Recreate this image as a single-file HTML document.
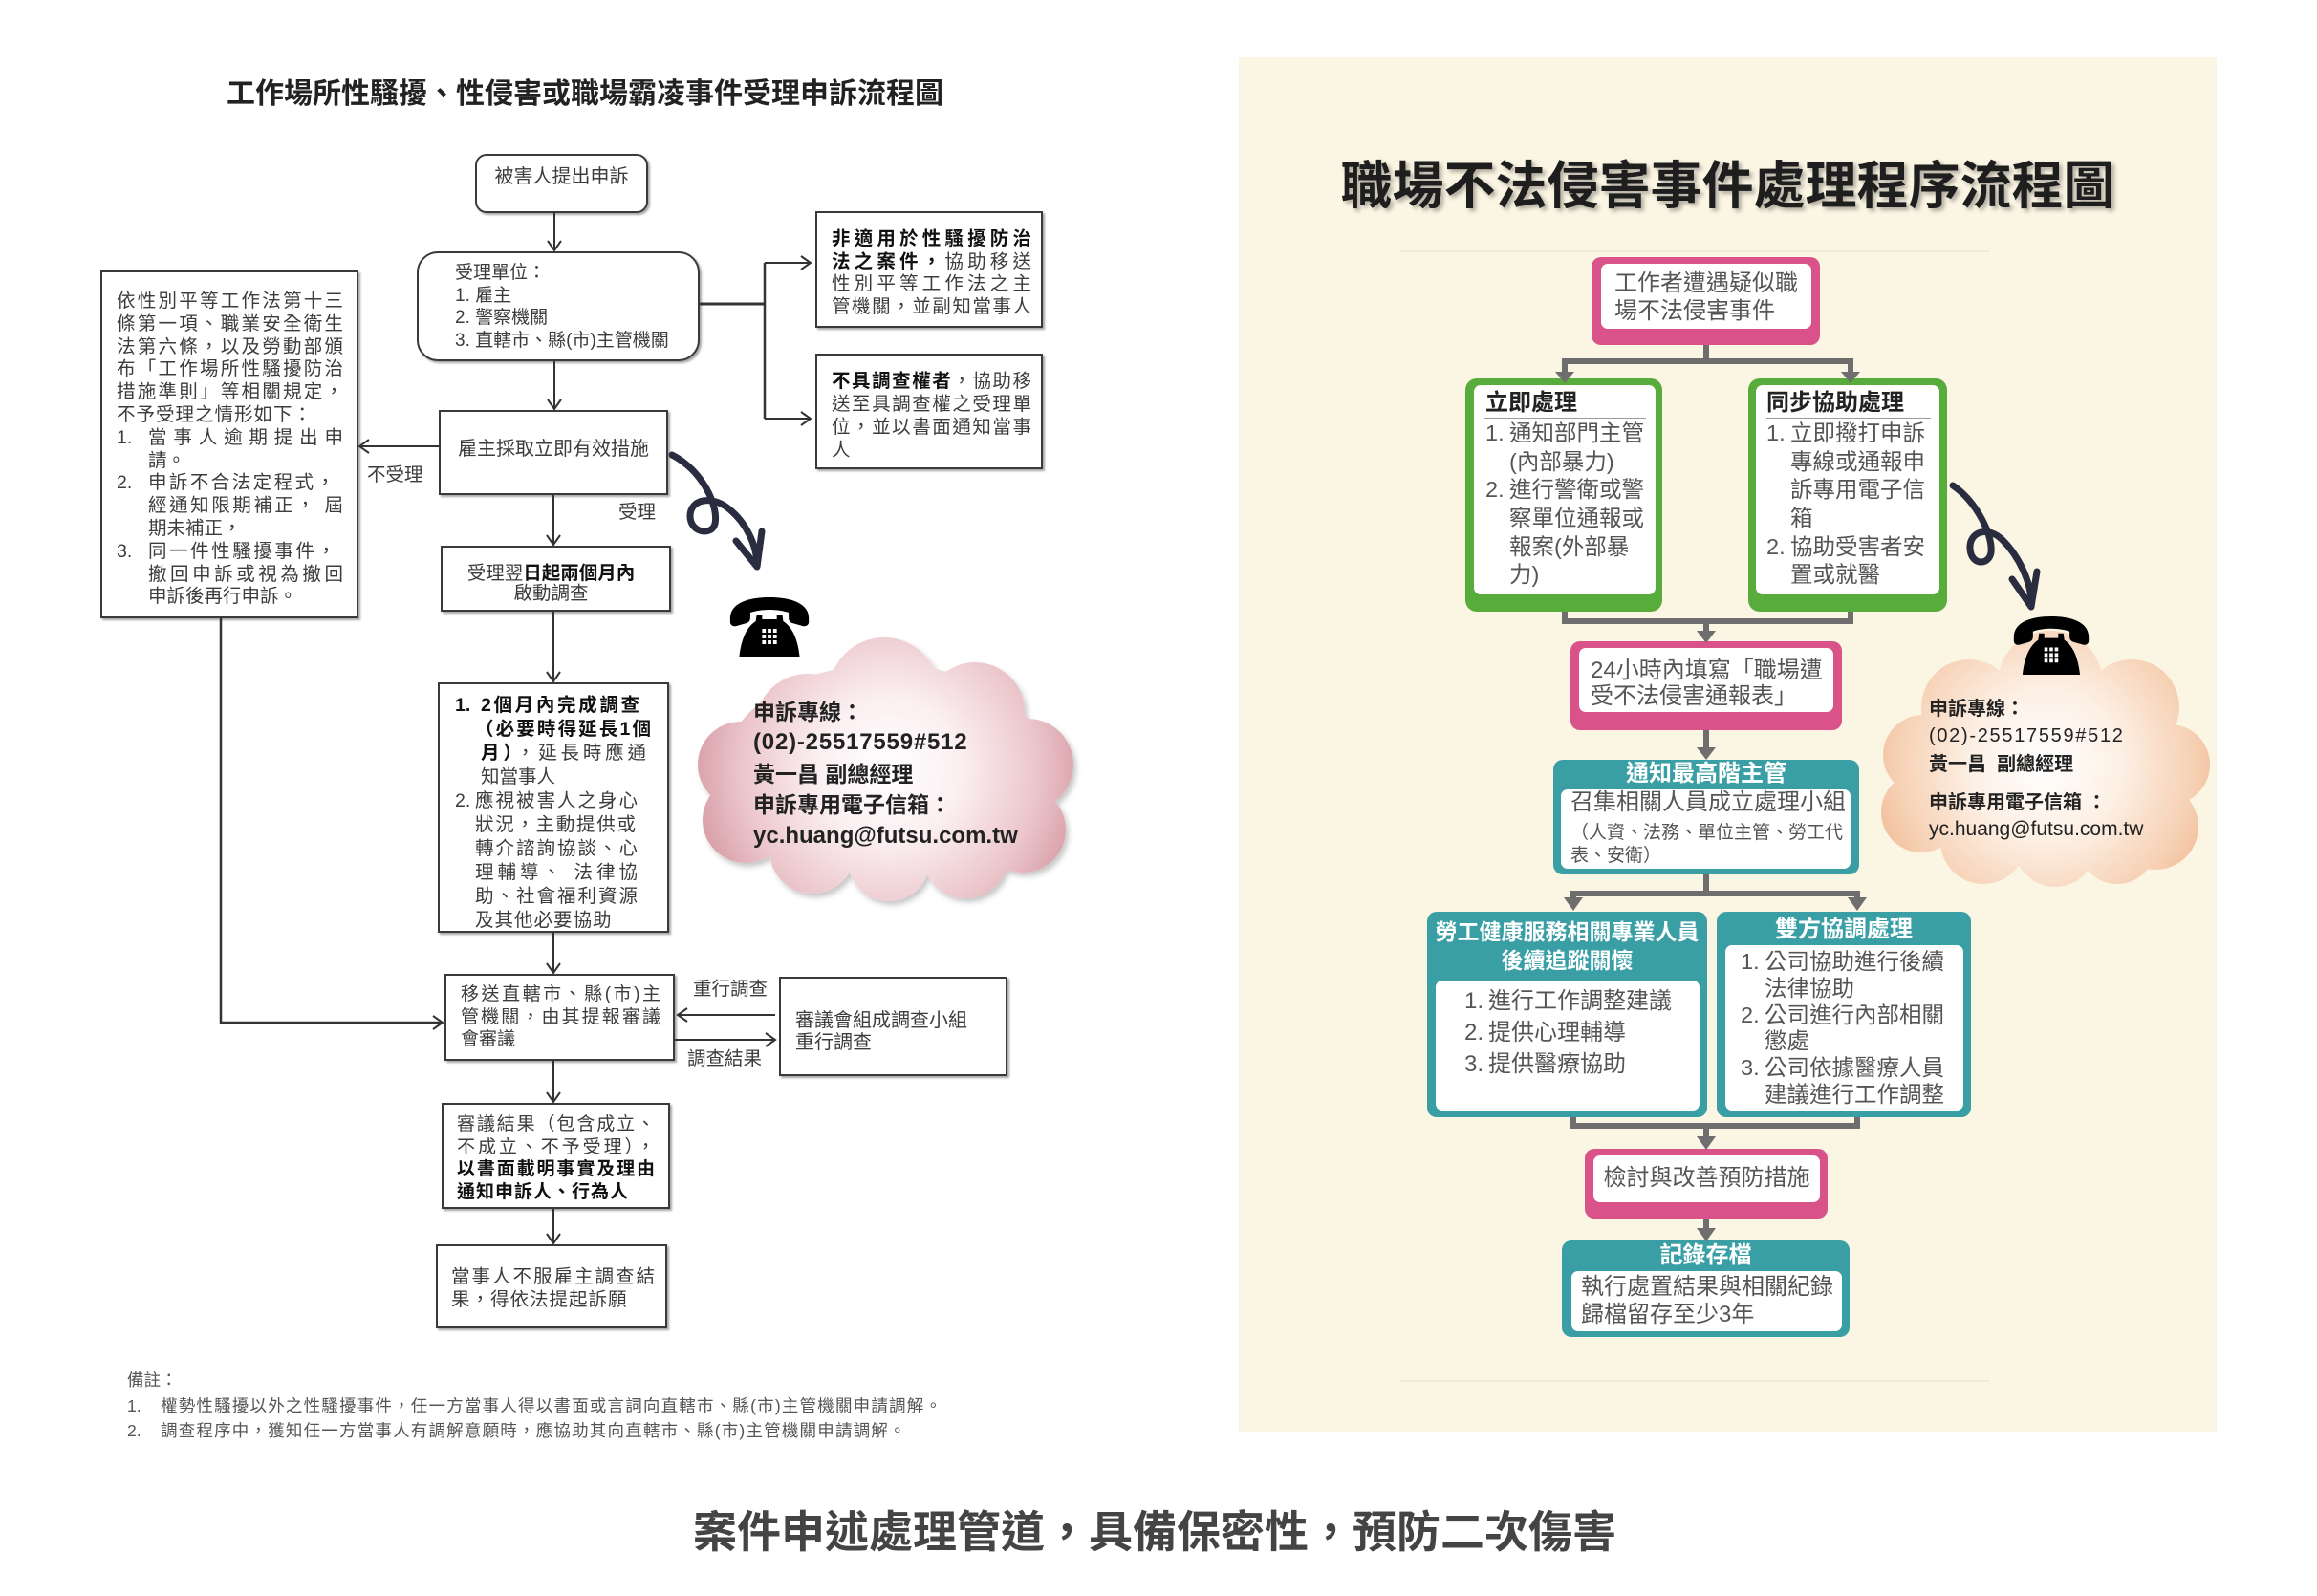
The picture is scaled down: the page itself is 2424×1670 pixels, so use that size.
<!DOCTYPE html>
<html><head><meta charset="utf-8">
<style>
*{margin:0;padding:0;box-sizing:border-box}
html,body{width:2424px;height:1670px;background:#fff;overflow:hidden}
body{position:relative;font-family:"Liberation Sans","Noto Sans CJK TC",sans-serif;color:#3c3c3c}
.a{position:absolute}
.L{position:absolute;white-space:nowrap}
.J{position:absolute;text-align:justify;text-align-last:justify;overflow:visible}
.bx{position:absolute;border:2px solid #3a3a3a;background:#fff;box-shadow:2px 2px 2px rgba(0,0,0,.35)}
.k{font-size:19.5px;line-height:24px;color:#3c3c3c}
b,.bd{font-weight:bold;color:#111}
.rb{position:absolute;border-radius:10px}
.rw{position:absolute;border-radius:7px;background:#fff}
.pk{background:#d9538a}
.gr{background:#57ac3c}
.tl{background:#3a9fa5}
.rt{position:absolute;white-space:nowrap;color:#555;font-size:24px}
.wh{color:#fff;font-weight:bold;text-align:center;white-space:nowrap;position:absolute}
.n{display:inline-block;width:25px}
</style></head><body>

<!-- right panel background -->
<div class="a" style="left:1296px;top:60px;width:1023px;height:1438px;background:#fbf5e3"></div>
<div class="a" style="left:1464px;top:262px;width:618px;height:2px;background:#f2ebd6"></div>
<div class="a" style="left:1464px;top:1444px;width:618px;height:2px;background:#f2ebd6"></div>

<!-- LEFT TITLE -->
<div class="L" style="left:0;top:81px;width:1224px;text-align:center;font-size:30px;line-height:36px;font-weight:bold;color:#222">工作場所性騷擾、性侵害或職場霸凌事件受理申訴流程圖</div>

<!-- LEFT BOXES -->
<div class="bx" style="left:497px;top:161px;width:181px;height:62px;border-radius:12px"></div>
<div class="bx" style="left:436px;top:263px;width:296px;height:115px;border-radius:22px"></div>
<div class="bx" style="left:853px;top:221px;width:238px;height:122px"></div>
<div class="bx" style="left:853px;top:370px;width:238px;height:121px"></div>
<div class="bx" style="left:459px;top:429px;width:240px;height:89px"></div>
<div class="bx" style="left:105px;top:283px;width:270px;height:364px"></div>
<div class="bx" style="left:461px;top:571px;width:241px;height:69px"></div>
<div class="bx" style="left:458px;top:714px;width:242px;height:262px"></div>
<div class="bx" style="left:465px;top:1019px;width:241px;height:91px"></div>
<div class="bx" style="left:815px;top:1022px;width:239px;height:104px"></div>
<div class="bx" style="left:462px;top:1154px;width:239px;height:111px"></div>
<div class="bx" style="left:456px;top:1302px;width:242px;height:88px"></div>

<!-- RIGHT BOXES -->
<div class="rb pk" style="left:1665px;top:269px;width:239px;height:92px"></div>
<div class="rw" style="left:1675px;top:276px;width:220px;height:68px"></div>
<div class="rb gr" style="left:1533px;top:396px;width:206px;height:244px;border-radius:12px"></div>
<div class="rw" style="left:1542px;top:403px;width:190px;height:219px"></div>
<div class="rb gr" style="left:1829px;top:396px;width:208px;height:244px;border-radius:12px"></div>
<div class="rw" style="left:1837px;top:403px;width:192px;height:219px"></div>
<div class="rb pk" style="left:1643px;top:671px;width:284px;height:93px"></div>
<div class="rw" style="left:1652px;top:678px;width:266px;height:67px"></div>
<div class="rb tl" style="left:1625px;top:795px;width:320px;height:120px"></div>
<div class="rw" style="left:1633px;top:826px;width:303px;height:83px"></div>
<div class="rb tl" style="left:1493px;top:954px;width:293px;height:215px"></div>
<div class="rw" style="left:1502px;top:1026px;width:276px;height:136px"></div>
<div class="rb tl" style="left:1796px;top:954px;width:266px;height:215px"></div>
<div class="rw" style="left:1805px;top:989px;width:249px;height:173px"></div>
<div class="rb pk" style="left:1658px;top:1202px;width:254px;height:73px"></div>
<div class="rw" style="left:1667px;top:1209px;width:237px;height:49px"></div>
<div class="rb tl" style="left:1634px;top:1298px;width:301px;height:101px"></div>
<div class="rw" style="left:1644px;top:1330px;width:283px;height:63px"></div>

<svg class="a" style="left:0;top:0" width="2424" height="1670" viewBox="0 0 2424 1670">
<defs>
<radialGradient id="gl" gradientUnits="userSpaceOnUse" cx="930" cy="805" r="215">
<stop offset="0" stop-color="#ffffff"/><stop offset="0.35" stop-color="#fbeff1"/><stop offset="0.72" stop-color="#ebc6cb"/><stop offset="1" stop-color="#d597a1"/>
</radialGradient>
<radialGradient id="gr" gradientUnits="userSpaceOnUse" cx="2140" cy="800" r="195">
<stop offset="0" stop-color="#ffffff"/><stop offset="0.4" stop-color="#fdf0e5"/><stop offset="0.8" stop-color="#f6d0b3"/><stop offset="1" stop-color="#efba94"/>
</radialGradient>
<filter id="sh" x="-10%" y="-10%" width="130%" height="130%"><feDropShadow dx="3" dy="4" stdDeviation="3" flood-color="#000" flood-opacity="0.22"/></filter>
</defs>

<!-- left cloud -->
<g fill="url(#gl)" filter="url(#sh)">
<ellipse cx="927" cy="805" rx="170" ry="110"/>
<circle cx="925" cy="725" r="58"/>
<circle cx="845" cy="760" r="55"/>
<circle cx="1020" cy="745" r="52"/>
<circle cx="1075" cy="800" r="48"/>
<circle cx="1070" cy="868" r="45"/>
<circle cx="1010" cy="895" r="45"/>
<circle cx="930" cy="900" r="43"/>
<circle cx="850" cy="890" r="45"/>
<circle cx="780" cy="858" r="45"/>
<circle cx="775" cy="800" r="45"/>
</g>
<!-- right cloud -->
<g fill="url(#gr)">
<ellipse cx="2140" cy="800" rx="150" ry="100"/>
<circle cx="2145" cy="715" r="55"/>
<circle cx="2060" cy="740" r="50"/>
<circle cx="2230" cy="740" r="50"/>
<circle cx="2270" cy="800" r="42"/>
<circle cx="2255" cy="865" r="45"/>
<circle cx="2150" cy="885" r="43"/>
<circle cx="2215" cy="885" r="40"/>
<circle cx="2075" cy="880" r="45"/>
<circle cx="2010" cy="850" r="42"/>
<circle cx="2012" cy="790" r="42"/>
</g>

<!-- phones -->
<g transform="translate(762,623) scale(0.956,1)">
<path fill="#000" d="M2,24 C2,8 22,2 45,2 C68,2 88,8 88,24 L88,28 C88,31 85,33 81,32 L70,29 C67,28 66,26 66,23 L66,18 C60,16 52,15 45,15 C38,15 30,16 24,18 L24,23 C24,26 23,28 20,29 L9,32 C5,33 2,31 2,28 Z"/>
<path fill="#000" d="M31,20 L37,20 L37,25 L53,25 L53,20 L59,20 L60,27 C70,33 76,46 78,64 L12,64 C14,46 20,33 30,27 Z"/>
<g fill="#fff"><rect x="37" y="35" width="4" height="4"/><rect x="43" y="35" width="4" height="4"/><rect x="49" y="35" width="4" height="4"/><rect x="37" y="41" width="4" height="4"/><rect x="43" y="41" width="4" height="4"/><rect x="49" y="41" width="4" height="4"/><rect x="37" y="47" width="4" height="4"/><rect x="43" y="47" width="4" height="4"/><rect x="49" y="47" width="4" height="4"/></g>
</g>
<g transform="translate(2105,643) scale(0.911,0.985)">
<path fill="#000" d="M2,24 C2,8 22,2 45,2 C68,2 88,8 88,24 L88,28 C88,31 85,33 81,32 L70,29 C67,28 66,26 66,23 L66,18 C60,16 52,15 45,15 C38,15 30,16 24,18 L24,23 C24,26 23,28 20,29 L9,32 C5,33 2,31 2,28 Z"/>
<path fill="#000" d="M31,20 L37,20 L37,25 L53,25 L53,20 L59,20 L60,27 C70,33 76,46 78,64 L12,64 C14,46 20,33 30,27 Z"/>
<g fill="#fff"><rect x="37" y="35" width="4" height="4"/><rect x="43" y="35" width="4" height="4"/><rect x="49" y="35" width="4" height="4"/><rect x="37" y="41" width="4" height="4"/><rect x="43" y="41" width="4" height="4"/><rect x="49" y="41" width="4" height="4"/><rect x="37" y="47" width="4" height="4"/><rect x="43" y="47" width="4" height="4"/><rect x="49" y="47" width="4" height="4"/></g>
</g>

<!-- curly arrows -->
<g fill="none" stroke="#2a2d3f" stroke-width="7" stroke-linecap="round" stroke-linejoin="round">
<path d="M703,476 C735,492 752,530 748,548 C745,561 722,558 722,540 C722,522 745,518 762,532 C780,546 792,570 792,592"/>
<path d="M770,566 L792,593 L797,556"/>
<path d="M2043,508 C2068,525 2085,560 2083,578 C2081,592 2062,592 2061,574 C2060,556 2080,550 2095,565 C2112,582 2126,610 2125,634"/>
<path d="M2105,606 L2125,635 L2131,598"/>
</g>

<!-- left connectors -->
<g fill="none" stroke="#333" stroke-width="2">
<path d="M580,223 V262"/><path d="M573,252 L580,262 L587,252"/>
<path d="M580,378 V428"/><path d="M573,418 L580,428 L587,418"/>
<path d="M732,318 H800" stroke-width="3"/>
<path d="M800,275 V438" stroke-width="2.5"/>
<path d="M800,275 H848"/><path d="M838,268 L848,275 L838,282"/>
<path d="M800,438 H848"/><path d="M838,431 L848,438 L838,445"/>
<path d="M459,467 H376"/><path d="M386,460 L376,467 L386,474"/>
<path d="M579,518 V570"/><path d="M572,560 L579,570 L586,560"/>
<path d="M579,640 V713"/><path d="M572,703 L579,713 L586,703"/>
<path d="M231,647 V1070 H463" stroke-width="2.5"/><path d="M453,1063 L463,1070 L453,1077"/>
<path d="M579,976 V1018"/><path d="M572,1008 L579,1018 L586,1008"/>
<path d="M811,1062 H709"/><path d="M719,1055 L709,1062 L719,1069"/>
<path d="M706,1088 H811"/><path d="M801,1081 L811,1088 L801,1095"/>
<path d="M579,1110 V1153"/><path d="M572,1143 L579,1153 L586,1143"/>
<path d="M579,1265 V1301"/><path d="M572,1291 L579,1301 L586,1291"/>
</g>

<!-- right connectors -->
<g fill="#6e6e6e">
<rect x="1782" y="361" width="6" height="20"/>
<rect x="1634" y="375" width="305" height="6"/>
<rect x="1634" y="375" width="6" height="16"/><rect x="1933" y="375" width="6" height="16"/>
<path d="M1627,389 L1647,389 L1637,401 Z"/><path d="M1926,389 L1946,389 L1936,401 Z"/>
<rect x="1634" y="640" width="6" height="13"/><rect x="1933" y="640" width="6" height="13"/>
<rect x="1634" y="647" width="305" height="6"/>
<rect x="1782" y="647" width="6" height="15"/>
<path d="M1775,660 L1795,660 L1785,673 Z"/>
<rect x="1782" y="764" width="6" height="20"/>
<path d="M1775,782 L1795,782 L1785,795 Z"/>
<rect x="1782" y="915" width="6" height="20"/>
<rect x="1643" y="932" width="303" height="6"/>
<rect x="1643" y="932" width="6" height="9"/><rect x="1940" y="932" width="6" height="9"/>
<path d="M1636,939 L1656,939 L1646,953 Z"/><path d="M1933,939 L1953,939 L1943,953 Z"/>
<rect x="1643" y="1169" width="6" height="12"/><rect x="1940" y="1169" width="6" height="12"/>
<rect x="1643" y="1175" width="303" height="6"/>
<rect x="1782" y="1175" width="6" height="16"/>
<path d="M1775,1189 L1795,1189 L1785,1203 Z"/>
<rect x="1782" y="1275" width="6" height="12"/>
<path d="M1775,1285 L1795,1285 L1785,1299 Z"/>
</g>
</svg>

<!-- LEFT TEXTS -->
<div class="L k" style="left:497px;top:173px;width:181px;text-align:center;font-size:20px">被害人提出申訴</div>

<div class="L" style="left:476px;top:274px;font-size:19px;line-height:23.7px;color:#3c3c3c">受理單位：<br>1. 雇主<br>2. 警察機關<br>3. 直轄市、縣(市)主管機關</div>

<div class="J k bd" style="left:870px;top:238px;width:209px">非適用於性騷擾防治</div>
<div class="J k" style="left:870px;top:261.5px;width:209px"><b>法之案件，</b>協助移送</div>
<div class="J k" style="left:870px;top:285px;width:209px">性別平等工作法之主</div>
<div class="J k" style="left:870px;top:308.5px;width:209px">管機關，並副知當事人</div>

<div class="J k" style="left:870px;top:387px;width:209px"><b>不具調查權者</b>，協助移</div>
<div class="J k" style="left:870px;top:411px;width:209px">送至具調查權之受理單</div>
<div class="J k" style="left:870px;top:435px;width:209px">位，並以書面通知當事</div>
<div class="L k" style="left:870px;top:459px">人</div>

<div class="L k" style="left:459px;top:458px;width:240px;text-align:center;font-size:20px">雇主採取立即有效措施</div>
<div class="L k" style="left:384px;top:485px">不受理</div>
<div class="L k" style="left:647px;top:524px">受理</div>
<div class="L" style="left:456px;top:590px;width:241px;text-align:center;font-size:19.5px;line-height:21px;color:#3c3c3c">受理翌<b>日起兩個月內</b><br>啟動調查</div>

<!-- left big box -->
<div class="J k" style="left:122px;top:303px;width:237px">依性別平等工作法第十三</div>
<div class="J k" style="left:122px;top:326.8px;width:237px">條第一項、職業安全衛生</div>
<div class="J k" style="left:122px;top:350.6px;width:237px">法第六條，以及勞動部頒</div>
<div class="J k" style="left:122px;top:374.4px;width:237px">布「工作場所性騷擾防治</div>
<div class="J k" style="left:122px;top:398.2px;width:237px">措施準則」等相關規定，</div>
<div class="L k" style="left:122px;top:422px;letter-spacing:1px">不予受理之情形如下：</div>
<div class="L k" style="left:122px;top:445.8px">1.</div>
<div class="J k" style="left:155px;top:445.8px;width:204px">當事人逾期提出申</div>
<div class="L k" style="left:155px;top:469.6px">請。</div>
<div class="L k" style="left:122px;top:493.4px">2.</div>
<div class="J k" style="left:155px;top:493.4px;width:195px">申訴不合法定程式，</div>
<div class="J k" style="left:155px;top:517.2px;width:204px">經通知限期補正， 屆</div>
<div class="L k" style="left:155px;top:541px">期未補正，</div>
<div class="L k" style="left:122px;top:564.8px">3.</div>
<div class="J k" style="left:155px;top:564.8px;width:196px">同一件性騷擾事件，</div>
<div class="J k" style="left:155px;top:588.6px;width:204px">撤回申訴或視為撤回</div>
<div class="L k" style="left:155px;top:612.4px">申訴後再行申訴。</div>

<!-- 2 months box -->
<div class="L k bd" style="left:476px;top:725.5px;line-height:25px">1.</div>
<div class="J k bd" style="left:503px;top:725.5px;width:166px;line-height:25px">2個月內完成調查</div>
<div class="J k bd" style="left:497px;top:750.5px;width:184px;line-height:25px">（必要時得延長1個</div>
<div class="J k" style="left:503px;top:775.5px;width:173px;line-height:25px"><b>月）</b>，延長時應通</div>
<div class="L k" style="left:503px;top:800.5px;line-height:25px">知當事人</div>
<div class="L k" style="left:476px;top:825.5px;line-height:25px">2.</div>
<div class="J k" style="left:497px;top:825.5px;width:170px;line-height:25px">應視被害人之身心</div>
<div class="J k" style="left:497px;top:850.5px;width:168px;line-height:25px">狀況，主動提供或</div>
<div class="J k" style="left:497px;top:875.5px;width:170px;line-height:25px">轉介諮詢協談、心</div>
<div class="J k" style="left:497px;top:900.5px;width:170px;line-height:25px">理輔導、 法律協</div>
<div class="J k" style="left:497px;top:925.5px;width:170px;line-height:25px">助、社會福利資源</div>
<div class="L k" style="left:497px;top:950.5px;line-height:25px;letter-spacing:1px">及其他必要協助</div>

<!-- transfer box -->
<div class="J k" style="left:482px;top:1029px;width:209px;font-size:19px;line-height:23.5px">移送直轄市、縣(市)主</div>
<div class="J k" style="left:482px;top:1052.5px;width:209px;font-size:19px;line-height:23.5px">管機關，由其提報審議</div>
<div class="L k" style="left:482px;top:1076px;font-size:19px;line-height:23.5px">會審議</div>

<div class="L" style="left:832px;top:1056.5px;font-size:20px;line-height:23px;color:#3c3c3c">審議會組成調查小組<br>重行調查</div>
<div class="L k" style="left:725px;top:1023px">重行調查</div>
<div class="L k" style="left:719px;top:1096px">調查結果</div>

<div class="J k" style="left:478px;top:1165.3px;width:207px;font-size:19px;line-height:23.4px">審議結果（包含成立、</div>
<div class="J k" style="left:478px;top:1188.7px;width:207px;font-size:19px;line-height:23.4px">不成立、不予受理），</div>
<div class="J k bd" style="left:478px;top:1212.1px;width:207px;font-size:19px;line-height:23.4px">以書面載明事實及理由</div>
<div class="L k bd" style="left:478px;top:1235.5px;font-size:19px;line-height:23.4px;letter-spacing:1px">通知申訴人、行為人</div>

<div class="J k" style="left:472px;top:1324px;width:213px">當事人不服雇主調查結</div>
<div class="L k" style="left:472px;top:1348px;letter-spacing:1px">果，得依法提起訴願</div>

<!-- notes -->
<div class="L" style="left:133px;top:1434px;font-size:17.5px;line-height:20px;color:#555">備註：</div>
<div class="L" style="left:133px;top:1461px;font-size:17.5px;line-height:20px;color:#555">1.</div>
<div class="L" style="left:168px;top:1461px;font-size:17.5px;line-height:20px;color:#555;letter-spacing:1.2px">權勢性騷擾以外之性騷擾事件，任一方當事人得以書面或言詞向直轄市、縣(市)主管機關申請調解。</div>
<div class="L" style="left:133px;top:1487px;font-size:17.5px;line-height:20px;color:#555">2.</div>
<div class="L" style="left:168px;top:1487px;font-size:17.5px;line-height:20px;color:#555;letter-spacing:1.2px">調查程序中，獲知任一方當事人有調解意願時，應協助其向直轄市、縣(市)主管機關申請調解。</div>

<!-- left cloud text -->
<div class="L" style="left:788px;top:730px;font-size:23px;line-height:30px;font-weight:bold;color:#222">申訴專線：</div>
<div class="L" style="left:788px;top:762px;font-size:24px;line-height:30px;font-weight:bold;color:#222;letter-spacing:0.8px">(02)-25517559#512</div>
<div class="L" style="left:788px;top:795px;font-size:23px;line-height:30px;font-weight:bold;color:#222">黃一昌 副總經理</div>
<div class="L" style="left:788px;top:827px;font-size:23px;line-height:30px;font-weight:bold;color:#222">申訴專用電子信箱：</div>
<div class="L" style="left:788px;top:860px;font-size:24px;line-height:30px;font-weight:bold;color:#222">yc.huang@futsu.com.tw</div>

<!-- RIGHT TITLE -->
<div class="L" style="left:1296px;top:162px;width:1023px;text-align:center;font-size:54px;line-height:66px;font-weight:bold;color:#1e1e1e;text-shadow:3px 3px 4px rgba(0,0,0,.3)">職場不法侵害事件處理程序流程圖</div>

<!-- RIGHT TEXTS -->
<div class="rt" style="left:1689px;top:281.5px;line-height:29px">工作者遭遇疑似職<br>場不法侵害事件</div>

<div class="rt" style="left:1554px;top:408px;line-height:28px;font-weight:bold;color:#222">立即處理</div>
<div class="a" style="left:1553px;top:437px;width:169px;height:1px;background:#9a9a9a"></div>
<div class="rt" style="left:1554px;top:439.2px;line-height:29.6px;font-size:23.5px"><span class="n">1.</span>通知部門主管<br><span class="n"></span>(內部暴力)<br><span class="n">2.</span>進行警衛或警<br><span class="n"></span>察單位通報或<br><span class="n"></span>報案(外部暴<br><span class="n"></span>力)</div>

<div class="rt" style="left:1848px;top:408px;line-height:28px;font-weight:bold;color:#222">同步協助處理</div>
<div class="a" style="left:1848px;top:437px;width:172px;height:1px;background:#9a9a9a"></div>
<div class="rt" style="left:1848px;top:439.2px;line-height:29.6px;font-size:23.5px"><span class="n">1.</span>立即撥打申訴<br><span class="n"></span>專線或通報申<br><span class="n"></span>訴專用電子信<br><span class="n"></span>箱<br><span class="n">2.</span>協助受害者安<br><span class="n"></span>置或就醫</div>

<div class="rt" style="left:1664px;top:687.5px;line-height:27px">24小時內填寫「職場遭<br>受不法侵害通報表」</div>

<div class="wh" style="left:1625px;top:796px;width:320px;font-size:24px;line-height:28px">通知最高階主管</div>
<div class="rt" style="left:1643px;top:826px;line-height:28px">召集相關人員成立處理小組</div>
<div class="rt" style="left:1643px;top:860px;line-height:24px;font-size:19px">（人資、法務、單位主管、勞工代<br>表、安衛）</div>

<div class="wh" style="left:1493px;top:960px;width:293px;font-size:23px;line-height:30px">勞工健康服務相關專業人員<br>後續追蹤關懷</div>
<div class="rt" style="left:1532px;top:1030.5px;line-height:33px"><span class="n">1.</span>進行工作調整建議<br><span class="n">2.</span>提供心理輔導<br><span class="n">3.</span>提供醫療協助</div>

<div class="wh" style="left:1796px;top:959px;width:266px;font-size:24px;line-height:28px">雙方協調處理</div>
<div class="rt" style="left:1821px;top:993.1px;line-height:27.8px;font-size:23.5px"><span class="n">1.</span>公司協助進行後續<br><span class="n"></span>法律協助<br><span class="n">2.</span>公司進行內部相關<br><span class="n"></span>懲處<br><span class="n">3.</span>公司依據醫療人員<br><span class="n"></span>建議進行工作調整</div>

<div class="rt" style="left:1667px;top:1219px;width:237px;text-align:center;line-height:28px">檢討與改善預防措施</div>

<div class="wh" style="left:1634px;top:1301px;width:301px;font-size:24px;line-height:26px">記錄存檔</div>
<div class="rt" style="left:1654px;top:1331.5px;line-height:29px">執行處置結果與相關紀錄<br>歸檔留存至少3年</div>

<!-- right cloud text -->
<div class="L" style="left:2018px;top:730px;font-size:20px;line-height:24px;font-weight:bold;color:#222">申訴專線：</div>
<div class="L" style="left:2018px;top:758px;font-size:20px;line-height:24px;color:#222;letter-spacing:1.7px">(02)-25517559#512</div>
<div class="L" style="left:2018px;top:788px;font-size:20px;line-height:24px;font-weight:bold;color:#222">黃一昌&nbsp;&nbsp;副總經理</div>
<div class="L" style="left:2018px;top:828px;font-size:20px;line-height:24px;font-weight:bold;color:#222">申訴專用電子信箱 ：</div>
<div class="L" style="left:2018px;top:854.5px;font-size:21px;line-height:25px;color:#222">yc.huang@futsu.com.tw</div>

<!-- caption -->
<div class="L" style="left:0;top:1574px;width:2416px;text-align:center;font-size:46px;line-height:58px;font-weight:bold;color:#444">案件申述處理管道，具備保密性，預防二次傷害</div>

</body></html>
